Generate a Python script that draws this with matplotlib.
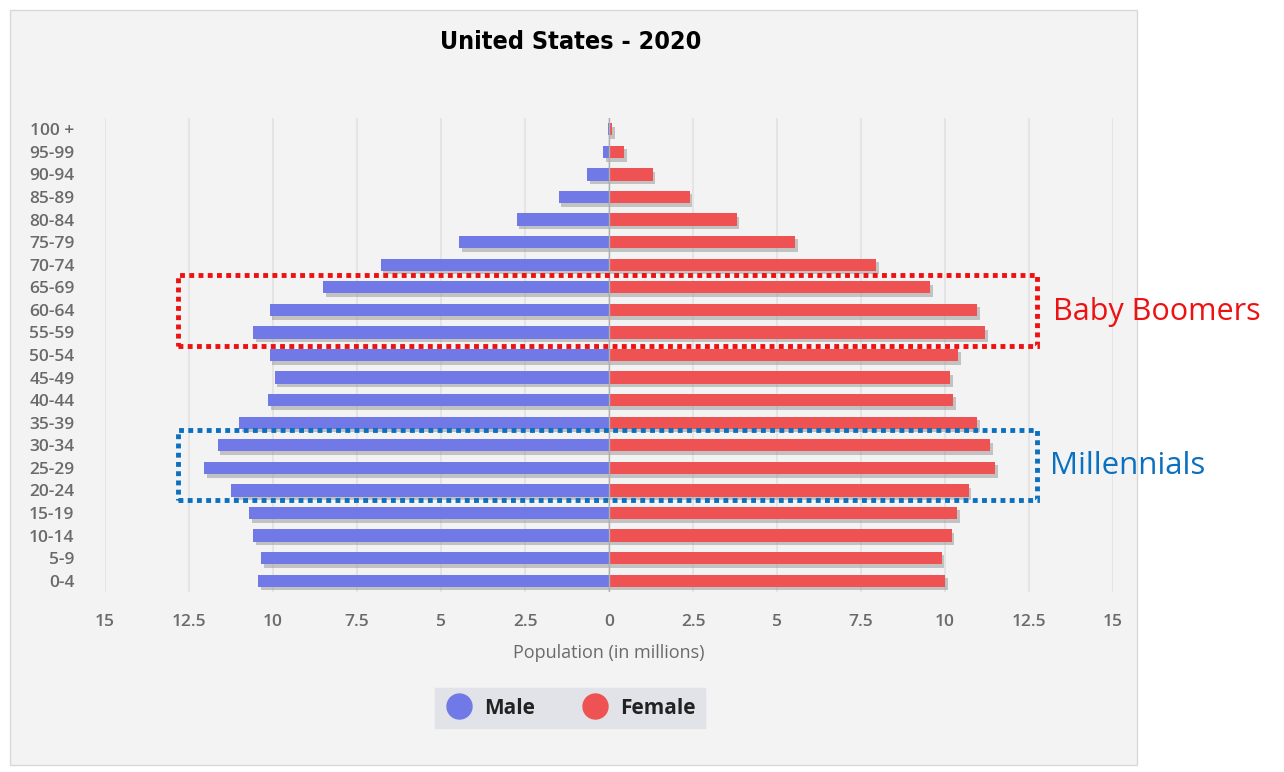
import matplotlib.pyplot as plt
import matplotlib.patheffects as pe
from matplotlib.patches import Rectangle
from matplotlib.lines import Line2D

# age groups, from the youngest (bottom) to the oldest (top)
grupos = ['0-4', '5-9', '10-14', '15-19', '20-24', '25-29', '30-34', '35-39',
          '40-44', '45-49', '50-54', '55-59', '60-64', '65-69', '70-74',
          '75-79', '80-84', '85-89', '90-94', '95-99', '100 +']
# population in millions
homens = [10.45, 10.35, 10.6, 10.7, 11.25, 12.05, 11.65, 11.0, 10.15, 9.95,
          10.1, 10.6, 10.1, 8.5, 6.8, 4.45, 2.75, 1.5, 0.65, 0.18, 0.04]
mulheres = [10.0, 9.9, 10.2, 10.35, 10.7, 11.5, 11.35, 10.95, 10.25, 10.15,
            10.4, 11.2, 10.95, 9.55, 7.95, 5.55, 3.8, 2.4, 1.3, 0.45, 0.1]
ticks_x = [-15, -12.5, -10, -7.5, -5, -2.5, 0, 2.5, 5, 7.5, 10, 12.5, 15]

cor_h = '#7079e6'
cor_m = '#ef5252'
cinza = '#6a6a6a'

fig = plt.figure(figsize=(12.84, 7.72), dpi=100)
fig.patch.set_facecolor('white')

# painel cinza do grafico
painel = Rectangle((10 / 1284, 1 - 765 / 772), 1127 / 1284, 755 / 772,
                   transform=fig.transFigure, facecolor='#f3f3f3',
                   edgecolor='#d8d8d8', lw=1, zorder=-10)
fig.patches.append(painel)

ax = fig.add_axes([105 / 1284, 1 - 592 / 772, 1008 / 1284, 474 / 772])
ax.set_facecolor('none')

y = list(range(len(grupos)))
sombra = [pe.SimplePatchShadow(offset=(2, -2.5), shadow_rgbFace='#9a9a9a', alpha=0.55), pe.Normal()]
ax.barh(y, [-v for v in homens], height=0.55, color=cor_h, path_effects=sombra, zorder=3)
ax.barh(y, mulheres, height=0.55, color=cor_m, path_effects=sombra, zorder=3)

ax.set_xlim(-15, 15)
ax.set_ylim(-0.5, len(grupos) - 0.5)
ax.set_xticks(ticks_x)
ax.set_xticklabels([('%g' % abs(t)) for t in ticks_x])
ax.set_yticks(y)
ax.set_yticklabels(grupos)
for s in ax.spines.values():
    s.set_visible(False)
ax.tick_params(axis='both', length=0, colors=cinza, labelsize=12.5)
ax.tick_params(axis='x', pad=16)
ax.tick_params(axis='y', pad=22)
for lab in ax.get_xticklabels() + ax.get_yticklabels():
    lab.set_fontfamily('Open Sans')
    lab.set_fontweight('semibold')
ax.grid(axis='x', color='#e2e2e2', lw=1.2, zorder=0)
ax.axvline(0, color='#b0b0b0', lw=1, zorder=4)

ax.set_xlabel('Population (in millions)', fontsize=13, color=cinza,
              family='Open Sans', labelpad=10)

fig.text(571 / 1284, 1 - 42 / 772, 'United States - 2020', ha='center', va='center',
         fontsize=18, fontweight='bold', fontstretch='condensed', family='DejaVu Sans')

# caixas pontilhadas das geracoes
caixa_bb = Rectangle((-12.83, 10.4), 25.57, 3.14, fill=False, edgecolor='#ee1111',
                     lw=3.5, linestyle=(0, (1, 0.9)), clip_on=False, zorder=6)
caixa_mi = Rectangle((-12.83, 3.58), 25.57, 3.1, fill=False, edgecolor='#0a70bf',
                     lw=3.5, linestyle=(0, (1, 0.9)), clip_on=False, zorder=6)
caixa_bb.set_capstyle('butt')
caixa_mi.set_capstyle('butt')
ax.add_patch(caixa_bb)
ax.add_patch(caixa_mi)
fig.text(1053 / 1284, 1 - 312 / 772, 'Baby Boomers', color='#ee1111', fontsize=22,
         ha='left', va='center', family='Open Sans')
fig.text(1050 / 1284, 1 - 466 / 772, 'Millennials', color='#0a70bf', fontsize=22.5,
         ha='left', va='center', family='Open Sans')

# legenda
handles = [Line2D([], [], marker='o', ls='none', ms=18, color=cor_h, label='Male'),
           Line2D([], [], marker='o', ls='none', ms=18, color=cor_m, label='Female')]
leg = fig.legend(handles=handles, loc='center', bbox_to_anchor=(570 / 1284, 1 - 708 / 772),
                 ncol=2, frameon=True, fancybox=False, facecolor='#e2e3e8', edgecolor='#e2e3e8',
                 framealpha=1, prop={'family': 'Open Sans', 'weight': 'bold', 'size': 15},
                 handletextpad=0.5, columnspacing=2.2, borderpad=0.45, handlelength=1.4)
for t in leg.get_texts():
    t.set_color('#222222')

fig.savefig('out.png', dpi=100)
